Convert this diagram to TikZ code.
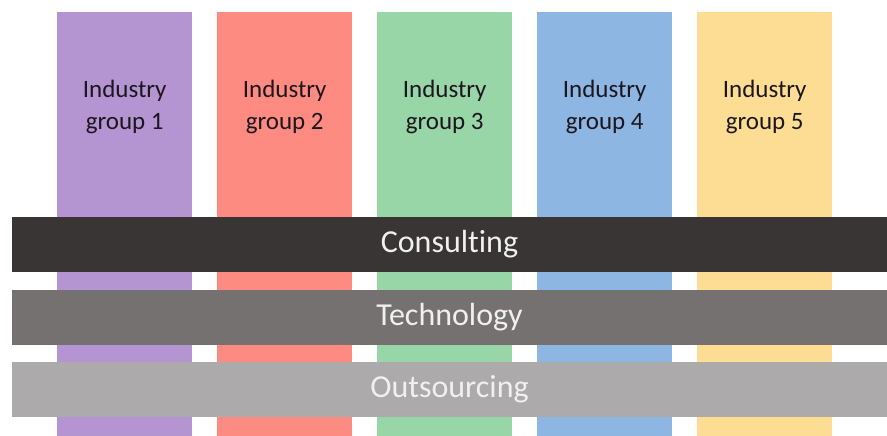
\documentclass[tikz,border=0pt]{standalone}
\usepackage{fontspec}
\setmainfont{Carlito}[RawFeature=-liga]
\usepackage{xcolor}
\usepackage{tikz}
\usetikzlibrary{positioning}
\definecolor{grpPurple}{RGB}{181,149,209}
\definecolor{grpSalmon}{RGB}{254,139,129}
\definecolor{grpGreen}{RGB}{153,214,167}
\definecolor{grpBlue}{RGB}{141,182,226}
\definecolor{grpYellow}{RGB}{253,221,148}
\definecolor{barDark}{RGB}{58,53,53}
\definecolor{barMid}{RGB}{118,113,113}
\definecolor{barLight}{RGB}{172,170,170}
\definecolor{lblInk}{RGB}{28,22,30}

\begin{document}
\begin{tikzpicture}[x=1pt,y=1pt,
  column/.style={rectangle, inner sep=0pt, minimum width=135pt, minimum height=424pt, anchor=north west},
  grplabel/.style={text=lblInk, align=center, font=\fontsize{25}{32}\selectfont},
  bar/.style={rectangle, inner sep=0pt, minimum width=875pt, minimum height=55pt, text=white!94!black, font=\fontsize{32}{36}\selectfont}]
\useasboundingbox (0,0) rectangle (887,-436);
% industry columns
\foreach \i/\c in {1/grpPurple,2/grpSalmon,3/grpGreen,4/grpBlue,5/grpYellow}{
  \node[column, fill=\c] (grp\i) at ({57+160*(\i-1)},-12) {};
  \node[grplabel, below=65pt of grp\i.north] (lbl\i) {Industry\\group \i};
}
% horizontal service bars
\node[bar, fill=barDark] (consult) at (449.5,-244.5) {Consulting};
\node[bar, fill=barMid] (tech) at (449.5,-317) {Technology};
\node[bar, fill=barLight] (outsrc) at (449.5,-389) {Outsourcing};
\end{tikzpicture}
\end{document}
